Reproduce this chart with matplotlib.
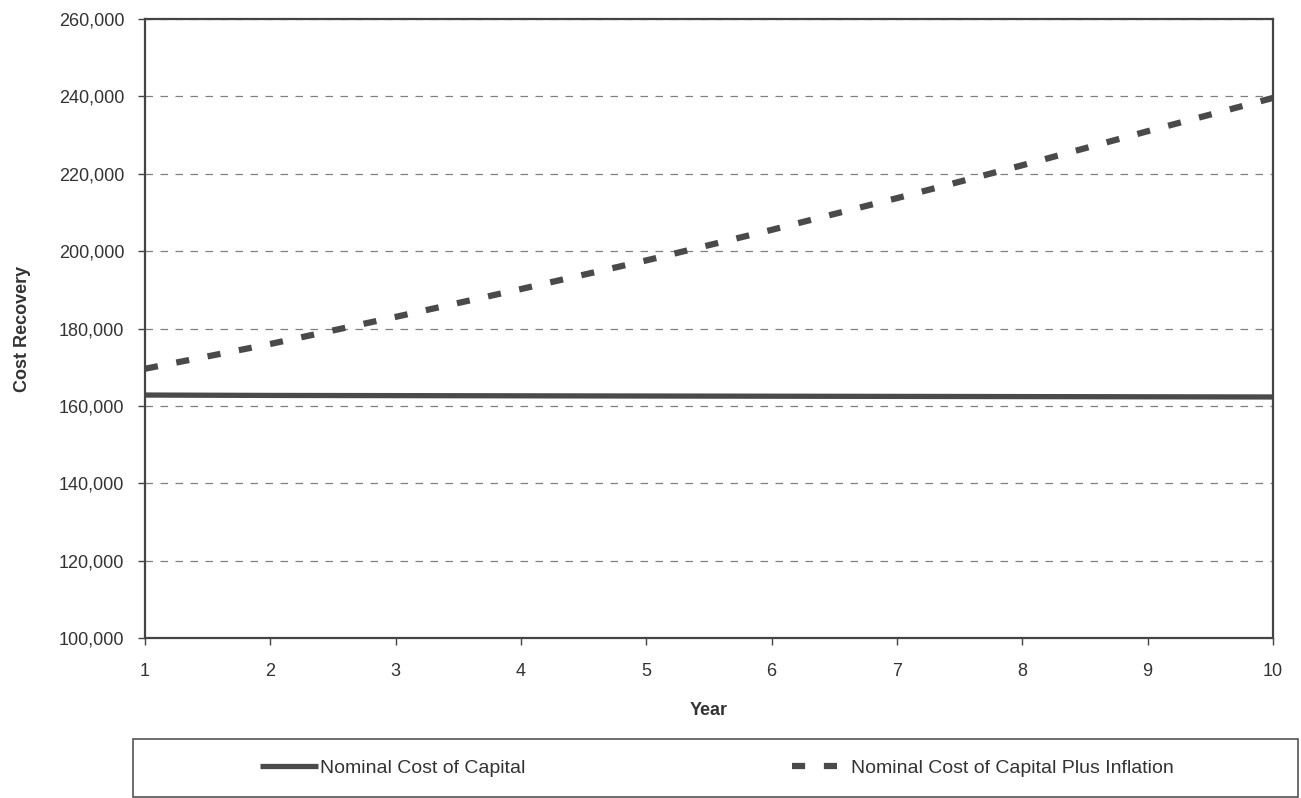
import matplotlib.pyplot as plt
from matplotlib.patches import Rectangle
from matplotlib.ticker import FuncFormatter

plt.rcParams['font.family'] = ['Liberation Sans', 'DejaVu Sans']

years = [1, 2, 3, 4, 5, 6, 7, 8, 9, 10]
nominal = [162800, 162700, 162650, 162600, 162550, 162500, 162450, 162400, 162350, 162300]
plus_inflation = [169600, 176000, 183000, 190200, 197600, 205500, 213700, 222200, 231000, 239600]

fig = plt.figure(figsize=(13.01, 7.98), dpi=100)
ax = fig.add_axes([145 / 1301, 160 / 798, 1128 / 1301, 619 / 798])

ax.plot(years, nominal, color='#4a4a4a', linewidth=3.8, solid_capstyle='butt',
        label='Nominal Cost of Capital')
ax.plot(years, plus_inflation, color='#4a4a4a', linewidth=4.5, dashes=(2.1, 3.0),
        label='Nominal Cost of Capital Plus Inflation')

ax.set_xlim(1, 10)
ax.set_ylim(100000, 260000)
ax.set_xticks(years)
ax.set_yticks(range(100000, 260001, 20000))
ax.yaxis.set_major_formatter(FuncFormatter(lambda v, p: f'{int(v):,}'))
ax.grid(axis='y', color='#808080', linestyle=(0, (6, 6)), linewidth=0.9)
ax.set_axisbelow(True)

for s in ax.spines.values():
    s.set_color('#444444')
    s.set_linewidth(1.6)

ax.tick_params(axis='both', colors='#444444', labelcolor='#333333', labelsize=13,
               direction='out', length=5, width=1)
ax.tick_params(axis='x', pad=13)
ax.tick_params(axis='y', pad=10)

ax.set_xlabel('Year', fontsize=13, color='#333333', fontweight='bold', labelpad=16)
ax.set_ylabel('Cost Recovery', fontsize=13, color='#333333', fontweight='bold', labelpad=20)

# legend box below the plot
fig.patches.append(Rectangle((133 / 1301, 1 / 798), 1165 / 1301, 58 / 798,
                             transform=fig.transFigure, fill=False,
                             edgecolor='#555555', linewidth=1.2))
fig.legend(loc='center', bbox_to_anchor=(717 / 1301, 30 / 798), ncol=2, frameon=False,
           fontsize=14, handlelength=2.95, handletextpad=0.1, columnspacing=13.7,
           labelcolor='#333333')

fig.savefig('out.png', dpi=100)
